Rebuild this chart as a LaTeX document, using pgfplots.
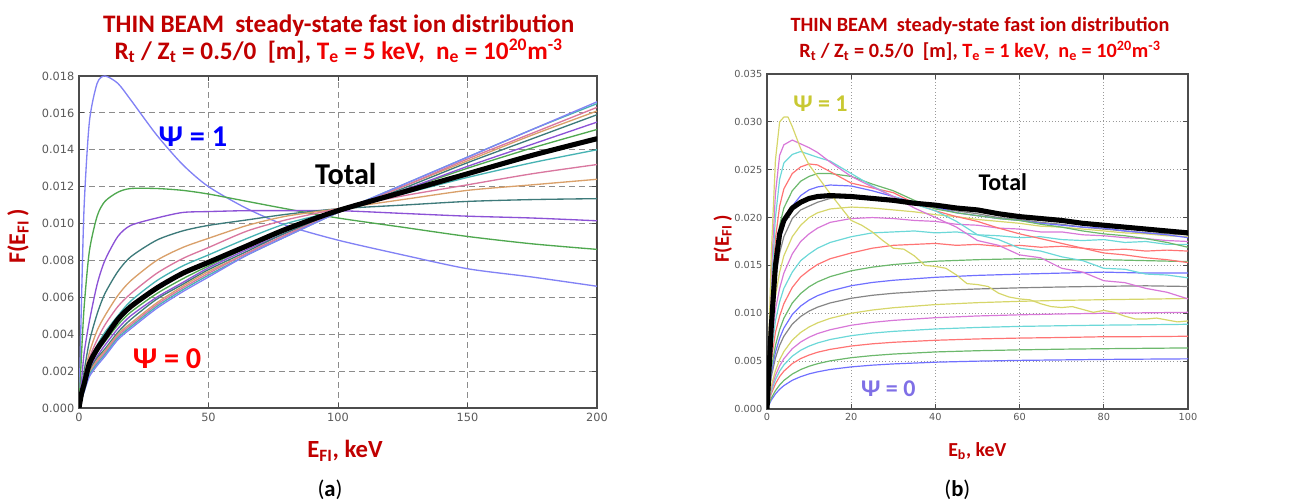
\documentclass[border=0pt]{standalone}
\usepackage{fontspec}
\setmainfont{Carlito}
\newfontfamily\tickfont{DejaVu Sans}
\usepackage{pgfplots}
\pgfplotsset{compat=1.18}
\definecolor{titlered}{HTML}{C00000}
\definecolor{brightred}{HTML}{F00000}
\definecolor{Lblue}{HTML}{8282F5}
\definecolor{Lgreen}{HTML}{4FA84F}
\definecolor{Lpurple}{HTML}{8C52D6}
\definecolor{Ldteal}{HTML}{3D7A7A}
\definecolor{Ltan}{HTML}{D9A06A}
\definecolor{Lpink}{HTML}{D9779F}
\definecolor{Lcyan}{HTML}{47B3B3}
\definecolor{Rb}{HTML}{7070FF}
\definecolor{Rg}{HTML}{6CB86C}
\definecolor{Rr}{HTML}{FF7474}
\definecolor{Rc}{HTML}{6CD8D8}
\definecolor{Rm}{HTML}{D878D8}
\definecolor{Ry}{HTML}{D6D66A}
\definecolor{Rk}{HTML}{858585}
\definecolor{psiyellow}{HTML}{C8C832}
\definecolor{psipurple}{HTML}{7F6FE6}
\pgfplotsset{
  common/.style={
    scale only axis, anchor=south west,
    tick align=inside, major tick length=4pt,
    axis line style={black!70, line width=0.8pt},
    tick style={black!70, line width=0.6pt},
    /pgf/number format/assume math mode=true,
    scaled y ticks=false,
    yticklabel style={/pgf/number format/fixed, /pgf/number format/fixed zerofill, /pgf/number format/precision=3},
    grid=major,
  },
  L/.style={line width=1pt, smooth, tension=0.45, no marks},
  R/.style={line width=0.9pt, no marks, line join=round},
}
\begin{document}
\begin{tikzpicture}
\useasboundingbox (0,0) rectangle (973.5pt,377.25pt);
% ---------------- left panel ----------------
\begin{axis}[common, at={(59.25pt,71.25pt)}, width=388.5pt, height=249pt,
  xmin=0, xmax=200, ymin=0, ymax=0.018,
  tick label style={font=\tickfont\fontsize{8.5}{9}\selectfont, text=black!65},
  xtick={0,50,100,150,200},
  ytick={0,0.002,0.004,0.006,0.008,0.010,0.012,0.014,0.016,0.018},
  major grid style={dash pattern=on 4.5pt off 3pt, black!45, line width=0.7pt},
  clip=true]
\addplot[L, Lblue] coordinates {(0,0) (1,0.0060) (2,0.0110) (4,0.0155) (7,0.0176) (10,0.0180) (15,0.0176) (20,0.0167) (30,0.0148) (40,0.0132) (50,0.0120) (65,0.0108) (80,0.0099) (100,0.0091) (125,0.0083) (150,0.00755) (175,0.0071) (200,0.0066)};
\addplot[L, Lgreen] coordinates {(0,0) (1,0.0030) (2,0.0055) (4,0.0085) (7,0.0104) (10,0.0112) (15,0.0117) (20,0.0119) (30,0.0119) (40,0.0118) (50,0.0116) (65,0.0112) (80,0.0108) (100,0.0103) (125,0.0098) (150,0.0093) (175,0.0089) (200,0.0086)};
\addplot[L, Lpurple] coordinates {(0,0) (1,0.0015) (2,0.0030) (4,0.0047) (7,0.0067) (10,0.0080) (15,0.0093) (20,0.0099) (30,0.0103) (40,0.0106) (50,0.01065) (65,0.0107) (80,0.0107) (100,0.0107) (125,0.01055) (150,0.0104) (175,0.0103) (200,0.01015)};
\addplot[L, Ldteal] coordinates {(0,0) (1,0.0010) (2,0.0020) (4,0.0036) (7,0.0051) (10,0.0062) (15,0.0074) (20,0.0082) (30,0.0091) (40,0.0096) (50,0.0099) (65,0.0102) (80,0.0105) (100,0.0108) (125,0.0110) (150,0.0112) (175,0.0113) (200,0.01135)};
\addplot[L, Ltan] coordinates {(0,0) (1,0.0009) (2,0.0017) (4,0.0030) (7,0.0042) (10,0.0050) (15,0.0061) (20,0.0069) (30,0.0080) (40,0.0087) (50,0.0092) (65,0.0099) (80,0.0104) (100,0.0108) (125,0.0113) (150,0.0118) (175,0.0121) (200,0.0124)};
\addplot[L, Lpink] coordinates {(0,0) (1,0.0008) (2,0.0015) (4,0.0027) (7,0.0037) (10,0.0045) (15,0.0055) (20,0.0062) (30,0.0073) (40,0.0081) (50,0.0087) (65,0.0096) (80,0.0102) (100,0.0108) (125,0.0115) (150,0.0121) (175,0.0127) (200,0.0132)};
\addplot[L, Lcyan] coordinates {(0,0) (1,0.0008) (2,0.0014) (4,0.0025) (7,0.0034) (10,0.0041) (15,0.0050) (20,0.0058) (30,0.0069) (40,0.0077) (50,0.0083) (65,0.0092) (80,0.0100) (100,0.0107) (125,0.0116) (150,0.0125) (175,0.0133) (200,0.0140)};
\addplot[L, Lgreen] coordinates {(0,0) (1,0.0007) (2,0.0012) (4,0.0022) (7,0.0030) (10,0.0036) (15,0.0045) (20,0.0052) (30,0.0062) (40,0.0070) (50,0.0077) (65,0.0087) (80,0.0096) (100,0.0107) (125,0.0118) (150,0.0130) (175,0.0141) (200,0.0151)};
\addplot[L, Lpurple] coordinates {(0,0) (1,0.0007) (2,0.0011) (4,0.0021) (7,0.0028) (10,0.0034) (15,0.0043) (20,0.0050) (30,0.0060) (40,0.0068) (50,0.0076) (65,0.0086) (80,0.0095) (100,0.0106) (125,0.0118) (150,0.0131) (175,0.0143) (200,0.0155)};
\addplot[L, Ldteal] coordinates {(0,0) (1,0.0006) (2,0.0011) (4,0.0020) (7,0.0027) (10,0.0032) (15,0.0041) (20,0.0048) (30,0.0059) (40,0.0067) (50,0.0075) (65,0.0085) (80,0.0095) (100,0.0106) (125,0.0119) (150,0.0133) (175,0.0146) (200,0.0159)};
\addplot[L, Ltan] coordinates {(0,0) (1,0.0006) (2,0.0010) (4,0.0019) (7,0.0026) (10,0.0031) (15,0.0040) (20,0.0046) (30,0.0057) (40,0.0066) (50,0.0074) (65,0.0084) (80,0.0094) (100,0.0106) (125,0.0120) (150,0.0134) (175,0.0148) (200,0.0161)};
\addplot[L, Lpink] coordinates {(0,0) (1,0.0006) (2,0.0010) (4,0.0018) (7,0.0025) (10,0.0030) (15,0.0039) (20,0.0045) (30,0.0056) (40,0.0065) (50,0.0073) (65,0.0084) (80,0.0094) (100,0.0106) (125,0.0120) (150,0.0135) (175,0.0149) (200,0.0163)};
\addplot[L, Lcyan] coordinates {(0,0) (1,0.0005) (2,0.0009) (4,0.0018) (7,0.0024) (10,0.0029) (15,0.0038) (20,0.0044) (30,0.0055) (40,0.0064) (50,0.0072) (65,0.0083) (80,0.0093) (100,0.0106) (125,0.0121) (150,0.0136) (175,0.0151) (200,0.0165)};
\addplot[L, Lblue] coordinates {(0,0) (1,0.0005) (2,0.0009) (4,0.0017) (7,0.0023) (10,0.0028) (15,0.0037) (20,0.0043) (30,0.0054) (40,0.0063) (50,0.0071) (65,0.0083) (80,0.0093) (100,0.0106) (125,0.0121) (150,0.0136) (175,0.0151) (200,0.0166)};
\addplot[L, black, line width=3.8pt, line cap=round] coordinates {(0,0) (1,0.0008) (2,0.0013) (4,0.0024) (7,0.0032) (10,0.0038) (15,0.0048) (20,0.0055) (30,0.0065) (40,0.0073) (50,0.0079) (65,0.0088) (80,0.0097) (100,0.0107) (125,0.0117) (150,0.0127) (175,0.0137) (200,0.0146)};
\node[font=\bfseries\fontsize{22.7}{26}\selectfont, text=blue] at (axis cs:44,0.0147) {Ψ = 1};
\node[font=\bfseries\fontsize{22.7}{26}\selectfont, text=black] at (axis cs:103,0.0127) {Total};
\node[font=\bfseries\fontsize{22.7}{26}\selectfont, text=red] at (axis cs:34,0.0027) {Ψ = 0};
\end{axis}
% ---------------- right panel ----------------
\begin{axis}[common, at={(575.25pt,70.5pt)}, width=315.75pt, height=251.25pt,
  xmin=0, xmax=100, ymin=0, ymax=0.035,
  tick label style={font=\tickfont\fontsize{7.3}{8}\selectfont, text=black!65},
  xtick={0,20,40,60,80,100},
  ytick={0,0.005,0.010,0.015,0.020,0.025,0.030,0.035},
  major grid style={dotted, black!40, line width=0.6pt},
  clip=true]
\addplot[R, Rb] coordinates {(0,0) (1,0.00092) (2,0.00157) (3,0.00206) (4,0.00244) (6,0.0030) (8,0.00338) (10,0.00367) (12,0.00388) (15,0.00413) (20,0.0044) (25,0.00458) (30,0.00471) (40,0.00489) (50,0.0050) (60,0.00508) (70,0.00513) (80,0.00518) (90,0.00521) (100,0.00524)};
\addplot[R, Rg] coordinates {(0,0) (1,0.00112) (2,0.00191) (3,0.00251) (4,0.00298) (6,0.00365) (8,0.00412) (10,0.00447) (12,0.00473) (15,0.00503) (20,0.00536) (25,0.00558) (30,0.00574) (40,0.00596) (50,0.00609) (60,0.00618) (70,0.00625) (80,0.0063) (90,0.00634) (100,0.00638)};
\addplot[R, Rr] coordinates {(0,0) (1,0.00158) (2,0.00263) (3,0.00339) (4,0.00395) (6,0.00474) (8,0.00527) (10,0.00564) (12,0.00593) (15,0.00623) (20,0.00658) (25,0.00681) (30,0.00697) (40,0.00718) (50,0.00732) (60,0.00741) (70,0.00747) (80,0.00755) (90,0.00756) (100,0.0076)};
\addplot[R, Rc] coordinates {(0,0) (1,0.00184) (2,0.00306) (3,0.00395) (4,0.0046) (6,0.00552) (8,0.00614) (10,0.00657) (12,0.0069) (15,0.00726) (20,0.00766) (25,0.00793) (30,0.00811) (40,0.00836) (50,0.00852) (60,0.00863) (70,0.0087) (80,0.00876) (90,0.0088) (100,0.00885)};
\addplot[R, Rm] coordinates {(0,0) (1,0.0021) (2,0.0035) (3,0.0045) (4,0.00525) (6,0.0063) (8,0.007) (10,0.0075) (12,0.00788) (15,0.00828) (20,0.00875) (25,0.00905) (30,0.00926) (40,0.00954) (50,0.00972) (60,0.00984) (70,0.00993) (80,0.0100) (90,0.01005) (100,0.0101)};
\addplot[R, Ry] coordinates {(0,0) (1,0.0024) (2,0.0040) (3,0.00515) (4,0.0060) (6,0.0072) (8,0.0080) (10,0.00857) (12,0.0090) (15,0.00947) (20,0.0100) (25,0.01034) (30,0.01058) (40,0.01091) (50,0.01111) (60,0.01125) (70,0.01135) (80,0.01142) (90,0.01148) (100,0.01154)};
\addplot[R, Rk] coordinates {(0,0) (1,0.00333) (2,0.00532) (3,0.00665) (4,0.0076) (6,0.00887) (8,0.00967) (10,0.01023) (12,0.01064) (15,0.01108) (20,0.01157) (25,0.01188) (30,0.01209) (40,0.01237) (50,0.01254) (60,0.01266) (70,0.01275) (80,0.01282) (90,0.01287) (100,0.0128)};
\addplot[R, Rb] coordinates {(0,0) (1,0.0037) (2,0.00592) (3,0.0074) (4,0.00845) (6,0.00987) (8,0.01076) (10,0.01138) (12,0.01184) (15,0.01233) (20,0.01288) (25,0.01322) (30,0.01345) (40,0.01376) (50,0.01396) (60,0.01409) (70,0.0142) (80,0.0143) (90,0.0142) (100,0.0142)};
\addplot[R, Rg] coordinates {(0,0) (1,0.00415) (2,0.00664) (3,0.0083) (4,0.00948) (6,0.01107) (8,0.01207) (10,0.01277) (12,0.01328) (15,0.01383) (20,0.01444) (25,0.01482) (30,0.01509) (40,0.01544) (50,0.0156) (60,0.0157) (70,0.0156) (80,0.0156) (90,0.0155) (100,0.0154)};
\addplot[R, Rr] coordinates {(0,0) (1,0.0050) (2,0.0080) (3,0.0097) (4,0.0110) (6,0.0127) (8,0.0138) (10,0.0145) (12,0.0151) (15,0.0157) (20,0.0163) (25,0.0168) (30,0.0171) (35,0.0172) (40,0.0173) (45,0.0171) (50,0.0172) (55,0.0170) (60,0.0171) (65,0.0169) (70,0.0170) (75,0.0168) (80,0.0166) (85,0.0167) (90,0.0165) (95,0.0166) (100,0.0165)};
\addplot[R, Rc] coordinates {(0,0) (1,0.0058) (2,0.0092) (3,0.0112) (4,0.0126) (6,0.0143) (8,0.0155) (10,0.0162) (12,0.0168) (15,0.0174) (20,0.0180) (25,0.0184) (30,0.0185) (35,0.0186) (40,0.0184) (45,0.0185) (50,0.0182) (55,0.0181) (60,0.0179) (65,0.0180) (70,0.0177) (75,0.0176) (80,0.0177) (85,0.0174) (90,0.0175) (95,0.0172) (100,0.0172)};
\addplot[R, Rm] coordinates {(0,0) (1,0.0066) (2,0.0104) (3,0.0126) (4,0.0142) (6,0.0162) (8,0.0175) (10,0.0183) (12,0.0189) (15,0.0195) (20,0.0199) (25,0.0200) (30,0.0199) (35,0.0197) (40,0.0196) (45,0.0193) (50,0.0192) (55,0.0189) (60,0.0188) (65,0.0185) (70,0.0185) (75,0.0182) (80,0.0181) (85,0.0179) (90,0.0178) (95,0.0176) (100,0.0175)};
\addplot[R, Ry] coordinates {(0,0) (1,0.0075) (2,0.0118) (3,0.0143) (4,0.0160) (6,0.0180) (8,0.0192) (10,0.0200) (12,0.0205) (15,0.0209) (20,0.0211) (25,0.0210) (30,0.0208) (35,0.0206) (40,0.0203) (45,0.0201) (50,0.0198) (55,0.0196) (60,0.0194) (65,0.0191) (70,0.0190) (75,0.0188) (80,0.0186) (85,0.0184) (90,0.0183) (95,0.0181) (100,0.0180)};
\addplot[R, Rk] coordinates {(0,0) (1,0.0085) (2,0.0135) (3,0.0163) (4,0.0180) (6,0.0199) (8,0.0208) (10,0.0212) (12,0.0216) (15,0.0220) (20,0.0222) (25,0.0221) (30,0.0217) (35,0.0214) (40,0.0210) (45,0.0207) (50,0.0204) (55,0.0200) (60,0.0198) (65,0.0195) (70,0.0193) (75,0.0190) (80,0.0188) (85,0.0186) (90,0.0184) (95,0.0183) (100,0.0182)};
\addplot[R, Rb] coordinates {(0,0) (1,0.0090) (2,0.0145) (3,0.0175) (4,0.0193) (6,0.0212) (8,0.0223) (10,0.0229) (12,0.0232) (15,0.0234) (20,0.0233) (25,0.0228) (30,0.0222) (35,0.0216) (40,0.0211) (45,0.0205) (50,0.0202) (55,0.0199) (60,0.0197) (65,0.0194) (70,0.0192) (75,0.0190) (80,0.0189) (85,0.0186) (90,0.0184) (95,0.0182) (100,0.0179)};
\addplot[R, Rg] coordinates {(0,0) (1,0.0100) (2,0.0160) (3,0.0192) (4,0.0210) (6,0.0228) (8,0.0238) (10,0.0243) (12,0.0246) (15,0.0246) (20,0.0243) (25,0.0235) (30,0.0228) (35,0.0218) (40,0.0209) (45,0.0205) (50,0.0202) (55,0.0199) (60,0.0197) (65,0.0193) (70,0.0190) (75,0.0186) (80,0.0183) (85,0.0181) (90,0.0178) (95,0.0174) (100,0.0169)};
\addplot[R, Rr] coordinates {(0,0) (1,0.0110) (2,0.0178) (3,0.0212) (4,0.0230) (6,0.0246) (8,0.0253) (10,0.0256) (12,0.0255) (15,0.0248) (20,0.0236) (25,0.0231) (30,0.0226) (35,0.0215) (40,0.0207) (45,0.0201) (50,0.0196) (55,0.0189) (60,0.0183) (65,0.0178) (70,0.0173) (75,0.0168) (80,0.0163) (85,0.0161) (90,0.0158) (95,0.0156) (100,0.0153)};
\addplot[R, Rc] coordinates {(0,0) (1,0.0125) (2,0.0200) (3,0.0240) (4,0.0257) (6,0.0266) (8,0.0269) (10,0.0266) (12,0.0263) (15,0.0259) (20,0.0246) (25,0.0233) (30,0.0222) (35,0.0214) (40,0.0207) (45,0.0196) (50,0.0182) (55,0.0177) (60,0.0168) (65,0.0165) (70,0.0159) (75,0.0155) (80,0.0147) (85,0.0146) (90,0.0141) (95,0.0140) (100,0.0137)};
\addplot[R, Rm] coordinates {(0,0) (1,0.0140) (2,0.0225) (3,0.0265) (4,0.0276) (6,0.0281) (8,0.0277) (10,0.0273) (12,0.0268) (15,0.0258) (20,0.0243) (25,0.0232) (30,0.0222) (35,0.0210) (40,0.0200) (45,0.0190) (50,0.0176) (55,0.0171) (60,0.0161) (65,0.0158) (70,0.0147) (75,0.0143) (80,0.0134) (85,0.0132) (90,0.0126) (95,0.0122) (100,0.0115)};
\addplot[R, Ry] coordinates {(0,0) (1,0.0160) (2,0.0260) (3,0.0300) (4,0.0305) (5,0.0305) (6,0.0295) (8,0.0272) (10,0.0255) (12,0.0243) (15,0.0225) (20,0.0197) (22.5,0.0192) (25,0.0185) (27.5,0.0176) (30,0.0168) (32.5,0.0167) (35,0.0160) (37.5,0.0150) (40,0.0149) (42.5,0.0147) (45,0.0140) (47.5,0.0131) (50,0.0130) (52.5,0.0128) (55,0.0121) (57.5,0.0117) (60,0.0115) (62.5,0.0114) (65,0.0110) (67.5,0.0107) (70,0.0106) (72.5,0.0107) (75,0.0104) (77.5,0.0101) (80,0.0103) (82.5,0.0101) (85,0.0097) (87.5,0.0094) (90,0.0094) (92.5,0.0095) (95,0.0093) (97.5,0.0091) (100,0.0092)};
\addplot[R, black, line width=3.8pt, line cap=round] coordinates {(0,0) (1,0.0085) (2,0.0150) (3,0.0183) (4,0.0197) (6,0.0210) (8,0.0216) (10,0.0220) (12,0.0222) (15,0.0223) (20,0.0222) (25,0.0220) (30,0.0218) (35,0.0215) (40,0.0213) (45,0.0210) (50,0.0208) (55,0.0204) (60,0.0201) (65,0.0199) (70,0.0197) (75,0.0194) (80,0.0192) (85,0.0190) (90,0.0188) (95,0.0186) (100,0.0184)};
\node[font=\bfseries\fontsize{18}{21}\selectfont, text=psiyellow] at (axis cs:12.7,0.0319) {Ψ = 1};
\node[font=\bfseries\fontsize{18}{21}\selectfont, text=black] at (axis cs:56,0.0237) {Total};
\node[font=\bfseries\fontsize{18}{21}\selectfont, text=psipurple] at (axis cs:28.8,0.0021) {Ψ = 0};
\end{axis}
% ---------------- titles and labels ----------------
\node[font=\bfseries\fontsize{18.9}{22}\selectfont, text=titlered] at (254pt,358pt) {THIN BEAM\ \ steady-state fast ion distribution};
\node[font=\bfseries\fontsize{18.9}{22}\selectfont] at (254pt,339pt) {\color{titlered}R\textsubscript{t} / Z\textsubscript{t} = 0.5/0\ \ [m], \color{brightred}T\textsubscript{e} = 5 keV,\ \ n\textsubscript{e} = 10\textsuperscript{20}m\textsuperscript{-3}};
\node[font=\bfseries\fontsize{15.2}{18}\selectfont, text=titlered] at (735pt,358pt) {THIN BEAM\ \ steady-state fast ion distribution};
\node[font=\bfseries\fontsize{15.2}{18}\selectfont] at (735pt,339pt) {\color{titlered}R\textsubscript{t} / Z\textsubscript{t} = 0.5/0\ \ [m], \color{brightred}T\textsubscript{e} = 1 keV,\ \ n\textsubscript{e} = 10\textsuperscript{20}m\textsuperscript{-3}};
\node[font=\bfseries\fontsize{18}{20}\selectfont, text=titlered, rotate=90] at (13.5pt,200pt) {F(E\textsubscript{FI}\,)};
\node[font=\bfseries\fontsize{15.5}{18}\selectfont, text=titlered, rotate=90] at (542pt,198pt) {F(E\textsubscript{FI}\,)};
\node[font=\bfseries\fontsize{18.5}{22}\selectfont, text=titlered] at (258.75pt,39pt) {E\textsubscript{FI}, keV};
\node[font=\bfseries\fontsize{14.9}{18}\selectfont, text=titlered] at (733pt,39pt) {E\textsubscript{b}, keV};
\node[font=\fontsize{17}{20}\selectfont] at (247.5pt,9.75pt) {(\textbf{a})};
\node[font=\fontsize{17}{20}\selectfont] at (718pt,9.75pt) {(\textbf{b})};
\end{tikzpicture}
\end{document}
